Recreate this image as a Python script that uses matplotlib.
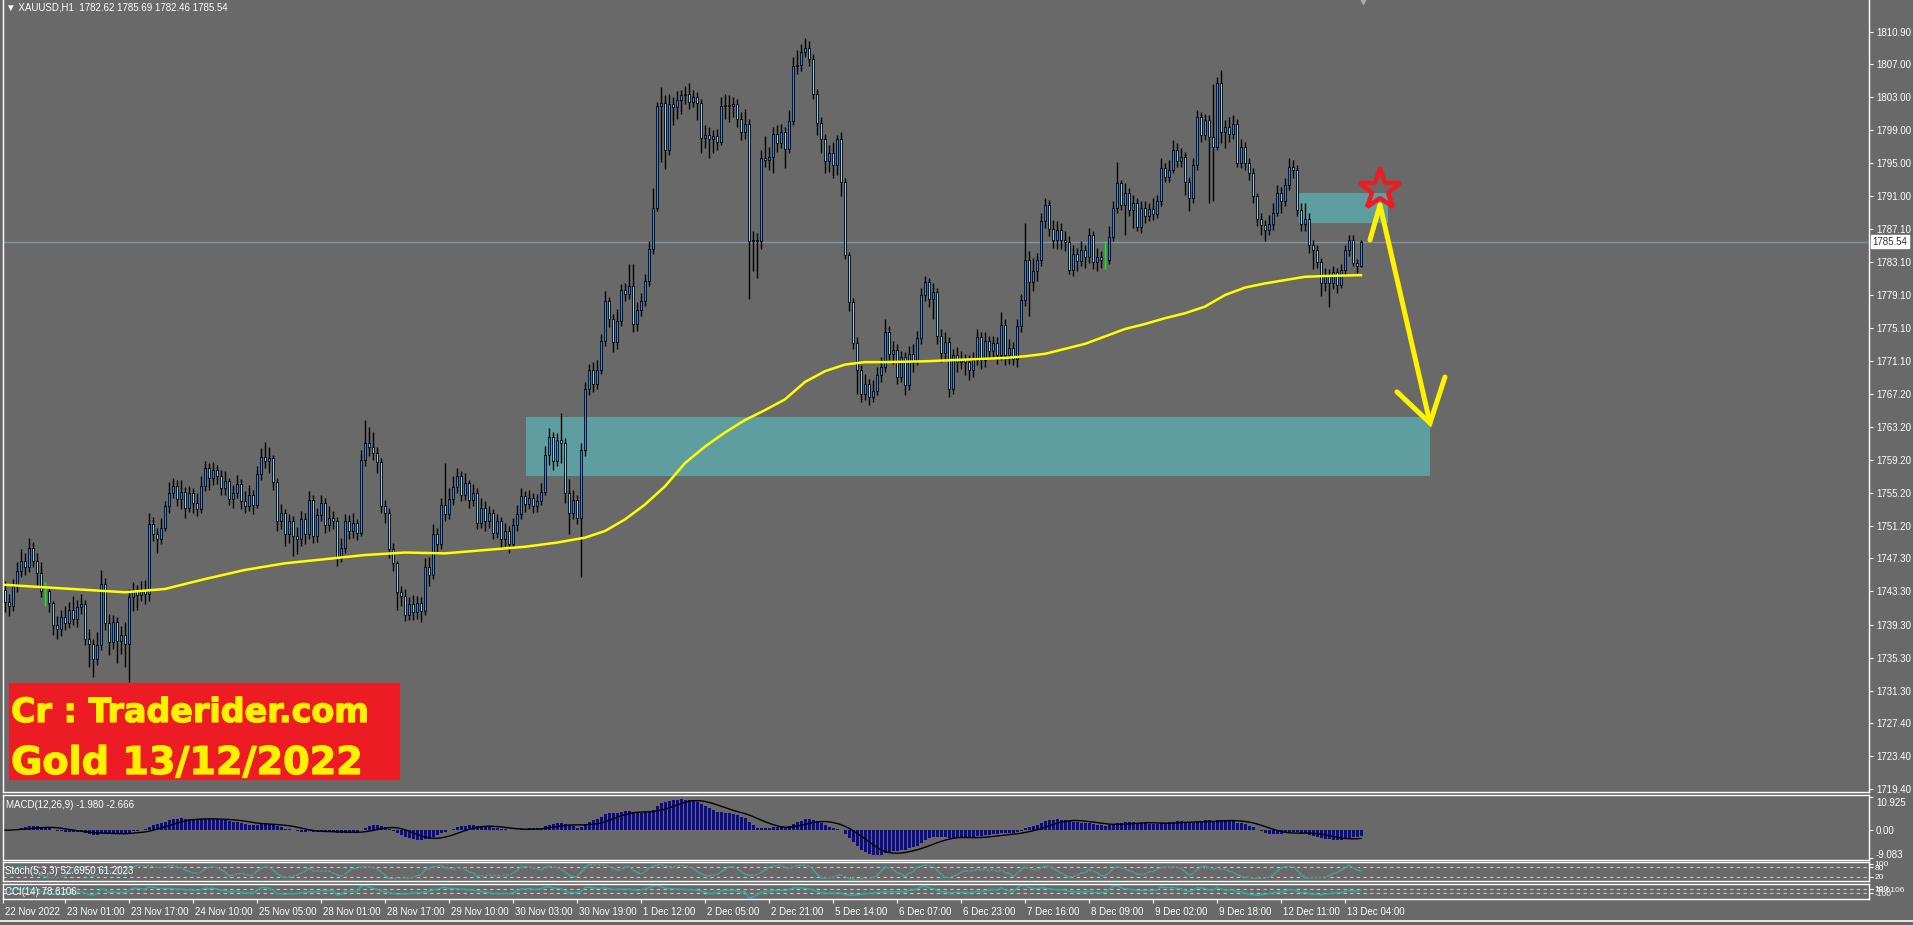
import numpy as np
import pandas as pd
import matplotlib
matplotlib.use("Agg")
import matplotlib.pyplot as plt
import matplotlib.patheffects as pe
from matplotlib.patches import Rectangle
from matplotlib.transforms import blended_transform_factory, ScaledTranslation

plt.rcParams['font.family'] = ['Liberation Sans', 'DejaVu Sans']

# ---- XAUUSD H1 candles ----
symbol = "XAUUSD,H1"
first_open = 1743.5
closes = [
    1742.0, 1741.5, 1744.0, 1745.8, 1747.0, 1746.2, 1748.5, 1747.0, 1745.5, 1743.4,
    1743.4, 1741.9, 1739.2, 1738.8, 1740.2, 1739.5, 1741.0, 1740.0, 1741.4, 1741.8,
    1737.6, 1737.0, 1735.2, 1736.8, 1744.2, 1739.5, 1737.2, 1739.6, 1737.3, 1738.0,
    1737.0, 1742.6, 1743.3, 1742.9, 1743.5, 1743.0, 1751.5, 1750.2, 1749.6, 1751.0,
    1753.6, 1755.2, 1756.0, 1754.5, 1755.3, 1753.4, 1755.2, 1754.0, 1753.3, 1756.0,
    1758.2, 1757.0, 1758.0, 1757.3, 1755.8, 1756.6, 1754.5, 1755.2, 1756.3, 1754.2,
    1753.6, 1755.0, 1753.8, 1757.5, 1759.5, 1759.0, 1759.4, 1756.5, 1751.8, 1752.8,
    1750.2, 1751.8, 1750.0, 1749.6, 1752.0, 1750.2, 1754.3, 1750.0, 1752.5, 1754.0,
    1751.3, 1752.2, 1751.8, 1747.3, 1748.6, 1751.8, 1750.6, 1751.6, 1750.4, 1759.2,
    1761.2, 1760.8, 1760.0, 1758.9, 1753.6, 1752.8, 1748.4, 1746.7, 1743.2, 1742.8,
    1740.4, 1741.8, 1740.8, 1741.9, 1740.9, 1746.2, 1745.3, 1750.2, 1749.0, 1753.8,
    1752.6, 1754.5, 1755.9, 1757.3, 1755.0, 1756.4, 1754.4, 1755.2, 1751.6, 1753.4,
    1751.8, 1752.8, 1750.4, 1751.8, 1749.6, 1750.6, 1749.0, 1751.3, 1752.7, 1754.8,
    1753.9, 1754.6, 1753.6, 1754.2, 1755.3, 1759.8, 1762.0, 1759.0, 1761.6, 1761.2,
    1755.2, 1752.8, 1754.4, 1752.2, 1760.4, 1767.8, 1770.0, 1768.3, 1770.1, 1773.5,
    1778.4, 1776.2, 1773.4, 1776.0, 1779.7, 1779.2, 1780.2, 1775.6, 1777.3, 1778.4,
    1780.8, 1784.7, 1789.6, 1801.9, 1802.3, 1796.6, 1802.2, 1801.8, 1802.6, 1803.2,
    1803.4, 1802.4, 1803.0, 1802.3, 1798.1, 1798.4, 1797.9, 1798.3, 1797.6, 1801.9,
    1802.1, 1801.9, 1802.2, 1800.4, 1798.8, 1799.7, 1785.6, 1785.8, 1785.6, 1795.7,
    1795.4, 1795.8, 1798.6, 1797.5, 1798.8, 1796.7, 1800.1, 1806.7, 1806.9, 1808.5,
    1808.9, 1807.6, 1803.4, 1799.9, 1797.9, 1795.3, 1796.2, 1794.8, 1797.9, 1792.7,
    1783.9, 1778.2, 1773.3, 1770.0, 1767.2, 1768.3, 1766.8, 1767.5, 1769.4, 1770.4,
    1774.6, 1772.0, 1772.5, 1769.2, 1771.6, 1768.2, 1772.0, 1771.1, 1773.9, 1779.1,
    1780.7, 1778.6, 1779.5, 1774.1, 1772.1, 1773.4, 1767.8, 1771.8, 1771.0, 1771.4,
    1771.0, 1770.0, 1771.2, 1774.0, 1771.2, 1773.6, 1772.3, 1773.3, 1771.8, 1775.5,
    1771.8, 1772.7, 1771.4, 1775.3, 1778.5, 1783.3, 1780.7, 1782.0, 1783.3, 1788.1,
    1790.0, 1787.1, 1785.8, 1787.0, 1785.7, 1785.5, 1782.1, 1784.0, 1783.2, 1784.5,
    1783.7, 1786.3, 1783.1, 1783.7, 1783.3, 1783.3, 1786.1, 1789.6, 1792.6, 1790.0,
    1791.4, 1789.4, 1790.2, 1787.3, 1789.6, 1788.6, 1789.5, 1788.9, 1790.4, 1794.4,
    1793.4, 1794.2, 1796.6, 1795.3, 1795.8, 1792.8, 1790.8, 1794.8, 1800.6, 1798.4,
    1800.2, 1798.2, 1797.0, 1804.7, 1798.8, 1799.4, 1798.6, 1799.8, 1795.0, 1797.0,
    1795.0, 1793.8, 1791.0, 1788.3, 1787.5, 1786.9, 1787.7, 1789.0, 1791.4, 1790.4,
    1792.4, 1794.6, 1794.2, 1789.4, 1787.7, 1788.3, 1785.1, 1784.5, 1783.1, 1780.5,
    1781.5, 1780.6, 1781.9, 1780.3, 1782.1, 1784.5, 1785.7, 1783.0, 1782.62, 1785.54,
]
highs = [
    1744.6, 1743.0, 1744.8, 1746.9, 1748.4, 1747.9, 1749.7, 1749.3, 1748.0, 1746.8,
    1744.5, 1743.7, 1742.2, 1740.3, 1741.0, 1741.6, 1742.0, 1742.8, 1742.3, 1743.0,
    1742.3, 1738.8, 1737.6, 1738.4, 1745.9, 1744.9, 1740.6, 1740.4, 1740.2, 1739.1,
    1739.6, 1743.6, 1744.5, 1744.1, 1744.6, 1744.7, 1752.8, 1752.3, 1751.0, 1752.2,
    1754.2, 1756.5, 1757.0, 1756.8, 1756.7, 1755.9, 1756.0, 1755.8, 1755.2, 1757.2,
    1759.0, 1758.8, 1758.9, 1758.6, 1758.0, 1757.8, 1757.0, 1756.2, 1757.4, 1756.9,
    1755.4, 1756.2, 1755.6, 1758.4, 1760.6, 1761.4, 1760.8, 1759.8, 1757.0, 1753.9,
    1753.2, 1752.6, 1752.4, 1751.1, 1753.0, 1752.8, 1755.4, 1754.9, 1753.4, 1755.0,
    1754.6, 1753.6, 1753.0, 1752.3, 1749.8, 1752.6, 1752.5, 1752.8, 1752.1, 1760.4,
    1764.0, 1763.2, 1762.6, 1760.8, 1759.4, 1754.4, 1753.4, 1749.2, 1747.0, 1744.0,
    1743.6, 1742.6, 1742.9, 1742.7, 1742.6, 1747.4, 1747.5, 1751.4, 1751.0, 1754.6,
    1758.8, 1755.8, 1757.2, 1758.2, 1757.9, 1757.6, 1756.8, 1756.3, 1755.8, 1754.6,
    1754.2, 1753.6, 1753.2, 1752.6, 1752.3, 1751.6, 1751.2, 1752.2, 1753.8, 1755.8,
    1755.4, 1755.6, 1755.2, 1755.1, 1756.4, 1760.9, 1763.0, 1762.6, 1762.4, 1764.8,
    1761.8, 1756.9, 1755.6, 1755.0, 1761.2, 1768.6, 1770.8, 1771.0, 1771.2, 1774.4,
    1779.6, 1778.9, 1776.8, 1777.4, 1780.4, 1780.6, 1782.8, 1782.8, 1778.2, 1779.4,
    1781.6, 1785.6, 1792.0, 1802.4, 1804.2, 1803.2, 1803.4, 1803.0, 1803.8, 1803.9,
    1804.4, 1804.7, 1803.9, 1803.6, 1802.8, 1799.6, 1799.4, 1799.0, 1799.2, 1803.0,
    1803.4, 1803.2, 1803.0, 1802.8, 1801.2, 1801.6, 1800.4, 1786.8, 1786.6, 1796.6,
    1798.3, 1797.0, 1799.4, 1799.6, 1799.8, 1799.4, 1801.4, 1807.8, 1808.7, 1809.4,
    1810.2, 1809.8, 1808.2, 1804.0, 1800.6, 1798.6, 1797.2, 1797.6, 1798.4, 1798.8,
    1793.2, 1784.3, 1778.8, 1774.0, 1770.6, 1769.6, 1769.0, 1768.8, 1770.4, 1771.6,
    1776.2, 1775.4, 1773.6, 1773.2, 1772.4, 1772.2, 1773.0, 1773.2, 1774.8, 1780.0,
    1781.4, 1781.2, 1780.6, 1779.9, 1775.0, 1774.6, 1774.0, 1772.6, 1772.8, 1772.4,
    1772.0, 1771.8, 1772.2, 1775.0, 1774.6, 1774.6, 1774.2, 1774.2, 1774.0, 1777.0,
    1776.2, 1773.8, 1773.4, 1776.2, 1779.2, 1787.8, 1784.4, 1783.6, 1784.2, 1789.0,
    1790.8, 1790.6, 1788.2, 1788.0, 1787.8, 1786.8, 1786.2, 1785.2, 1784.8, 1785.6,
    1785.2, 1787.2, 1786.8, 1784.8, 1784.4, 1785.6, 1787.4, 1790.4, 1795.2, 1793.0,
    1792.6, 1792.0, 1791.2, 1790.8, 1790.4, 1790.4, 1790.2, 1790.8, 1791.2, 1795.6,
    1795.0, 1795.4, 1797.8, 1797.4, 1796.8, 1796.4, 1793.4, 1795.6, 1801.4, 1801.2,
    1801.0, 1800.8, 1804.6, 1805.4, 1806.3, 1800.2, 1800.6, 1800.8, 1800.4, 1798.0,
    1797.6, 1795.6, 1794.4, 1791.4, 1789.0, 1788.2, 1788.8, 1790.2, 1792.4, 1792.2,
    1793.2, 1795.6, 1795.4, 1794.8, 1790.2, 1790.2, 1789.0, 1785.8, 1785.2, 1783.6,
    1782.4, 1782.2, 1782.6, 1782.4, 1782.8, 1785.2, 1786.4, 1786.4, 1783.4, 1785.69,
]
lows = [
    1740.8, 1740.3, 1740.9, 1743.2, 1745.0, 1745.3, 1745.6, 1746.2, 1744.1, 1742.6,
    1741.6, 1740.8, 1738.0, 1737.6, 1737.9, 1738.7, 1738.9, 1739.2, 1739.0, 1740.6,
    1736.8, 1734.2, 1733.0, 1734.4, 1736.2, 1738.6, 1735.6, 1736.4, 1734.6, 1735.8,
    1734.2, 1732.4, 1740.9, 1741.0, 1742.1, 1741.8, 1742.2, 1749.4, 1748.0, 1749.0,
    1750.6, 1752.8, 1754.6, 1753.6, 1753.2, 1752.2, 1752.9, 1752.8, 1752.4, 1752.8,
    1755.4, 1755.6, 1756.2, 1756.3, 1754.9, 1755.0, 1753.7, 1753.4, 1754.6, 1753.2,
    1752.8, 1753.0, 1752.6, 1753.4, 1756.8, 1758.2, 1757.6, 1755.6, 1750.6, 1750.9,
    1748.8, 1749.2, 1747.6, 1747.8, 1748.8, 1749.0, 1749.6, 1749.2, 1749.3, 1751.8,
    1750.4, 1750.6, 1750.8, 1746.4, 1746.8, 1748.0, 1749.6, 1749.8, 1749.5, 1750.0,
    1758.5, 1759.6, 1759.2, 1757.6, 1752.8, 1751.6, 1747.4, 1745.8, 1741.0, 1741.5,
    1739.7, 1739.8, 1739.8, 1740.0, 1739.6, 1740.4, 1744.0, 1744.8, 1747.8, 1748.4,
    1751.8, 1752.0, 1753.8, 1755.2, 1754.2, 1754.4, 1753.4, 1753.6, 1750.8, 1751.0,
    1750.6, 1751.0, 1749.6, 1749.8, 1748.6, 1748.8, 1748.0, 1748.6, 1750.6, 1752.0,
    1752.9, 1753.2, 1752.8, 1752.9, 1753.8, 1754.9, 1758.6, 1758.0, 1758.4, 1758.8,
    1754.0, 1750.2, 1752.0, 1751.4, 1745.0, 1759.6, 1767.0, 1767.4, 1767.8, 1769.6,
    1773.0, 1775.2, 1772.2, 1772.6, 1775.4, 1778.4, 1778.6, 1774.6, 1774.8, 1776.6,
    1777.8, 1780.2, 1784.0, 1789.2, 1795.2, 1794.3, 1796.0, 1799.6, 1800.4, 1801.0,
    1802.2, 1801.6, 1801.8, 1800.2, 1796.2, 1796.8, 1795.6, 1796.2, 1796.6, 1797.2,
    1800.4, 1800.0, 1800.6, 1799.4, 1797.8, 1798.0, 1778.6, 1782.0, 1781.2, 1784.6,
    1794.6, 1794.2, 1793.8, 1796.4, 1796.8, 1794.4, 1796.2, 1799.6, 1805.8, 1806.2,
    1807.8, 1806.8, 1802.8, 1798.4, 1796.2, 1793.8, 1794.0, 1793.2, 1793.6, 1791.0,
    1783.4, 1777.2, 1772.6, 1767.2, 1766.2, 1766.4, 1765.8, 1766.2, 1767.0, 1768.6,
    1769.8, 1771.2, 1770.8, 1768.4, 1768.6, 1767.0, 1767.6, 1769.8, 1770.6, 1773.2,
    1778.4, 1777.6, 1776.2, 1773.2, 1771.0, 1771.4, 1766.8, 1767.2, 1769.8, 1770.2,
    1769.4, 1768.8, 1769.2, 1770.6, 1770.2, 1770.4, 1771.4, 1771.6, 1770.8, 1771.2,
    1770.6, 1770.8, 1770.6, 1770.4, 1774.6, 1777.8, 1776.6, 1779.6, 1780.8, 1782.6,
    1787.2, 1786.2, 1784.8, 1784.6, 1784.6, 1784.4, 1781.6, 1781.4, 1782.0, 1782.6,
    1782.4, 1783.0, 1782.2, 1782.0, 1782.4, 1782.2, 1782.8, 1785.6, 1789.0, 1789.4,
    1786.4, 1788.6, 1787.2, 1786.8, 1786.6, 1787.8, 1788.0, 1788.2, 1788.4, 1789.8,
    1792.8, 1792.8, 1793.8, 1794.6, 1794.6, 1791.2, 1789.2, 1790.2, 1794.2, 1797.6,
    1797.8, 1790.2, 1790.4, 1796.6, 1797.4, 1796.8, 1797.6, 1798.0, 1794.6, 1794.4,
    1794.2, 1793.0, 1790.2, 1787.4, 1786.4, 1785.6, 1786.4, 1787.0, 1788.6, 1789.0,
    1789.8, 1791.8, 1793.2, 1788.6, 1786.8, 1786.8, 1784.2, 1782.2, 1782.4, 1779.0,
    1779.6, 1777.7, 1779.8, 1779.4, 1779.9, 1781.4, 1783.8, 1782.6, 1781.8, 1782.46,
]

# yellow moving average
ma_bars = [0, 10, 20, 30, 40, 50, 60, 70, 80, 90, 100, 110, 120, 130, 138, 145, 150, 155,
           160, 165, 170, 175, 180, 185, 190, 195, 200, 205, 210, 215, 220, 230, 240, 250,
           255, 260, 265, 270, 275, 280, 285, 290, 295, 300, 305, 310, 315, 320, 325, 330, 339]
ma_values = [1744.1, 1743.8, 1743.5, 1743.2, 1743.6, 1744.8, 1745.9, 1746.7, 1747.2, 1747.7,
             1748.0, 1747.9, 1748.3, 1748.7, 1749.2, 1749.8, 1750.6, 1752.0, 1753.8, 1756.0,
             1758.8, 1760.8, 1762.5, 1764.0, 1765.2, 1766.5, 1768.6, 1769.9, 1770.7, 1771.0,
             1771.0, 1771.1, 1771.3, 1771.5, 1771.7, 1772.0, 1772.6, 1773.2, 1774.1, 1775.0,
             1775.6, 1776.3, 1776.9, 1777.7, 1779.1, 1780.0, 1780.5, 1780.9, 1781.3, 1781.4,
             1781.5]

price_ticks = [1810.9, 1807.0, 1803.0, 1799.0, 1795.0, 1791.0, 1787.1, 1783.1, 1779.1, 1775.1,
               1771.1, 1767.2, 1763.2, 1759.2, 1755.2, 1751.2, 1747.3, 1743.3, 1739.3, 1735.3,
               1731.3, 1727.4, 1723.4, 1719.4]
date_labels = ["22 Nov 2022", "23 Nov 01:00", "23 Nov 17:00", "24 Nov 10:00", "25 Nov 05:00",
               "28 Nov 01:00", "28 Nov 17:00", "29 Nov 10:00", "30 Nov 03:00", "30 Nov 19:00",
               "1 Dec 12:00", "2 Dec 05:00", "2 Dec 21:00", "5 Dec 14:00", "6 Dec 07:00",
               "6 Dec 23:00", "7 Dec 16:00", "8 Dec 09:00", "9 Dec 02:00", "9 Dec 18:00",
               "12 Dec 11:00", "13 Dec 04:00"]
date_bars = [-0.5] + [15 + 16 * k for k in range(21)]

# drawn zones / annotations (bar index, price)
zone_big = (130.25, 356.25, 1757.2, 1764.4)
zone_small = (323.5, 345.75, 1787.8, 1791.4)
arrow_x = [341.25, 343.75, 356.25]
arrow_y = [1785.75, 1789.97, 1763.64]
head_x = [348.0, 356.25, 360.0]
head_y = [1767.4, 1763.64, 1769.2]
star_xy = (343.75, 1791.8)

macd_label = "MACD(12,26,9) -1.980 -2.666"
macd_range = (10.925, -9.083)
stoch_label = "Stoch(5,3,3) 52.6950 61.2023"
cci_label = "CCI(14) 78.6106"
banner_lines = ["Cr : Traderider.com", "Gold 13/12/2022"]

# ---- derived series ----
c = np.array(closes)
h = np.array(highs)
l = np.array(lows)
o = np.array([first_open] + closes[:-1])
idx = np.arange(len(c))

cs, hs, ls = pd.Series(c), pd.Series(h), pd.Series(l)
macd = cs.ewm(span=12, adjust=False).mean() - cs.ewm(span=26, adjust=False).mean()
signal = macd.rolling(9, min_periods=1).mean()
ll5 = ls.rolling(5, min_periods=1).min()
hh5 = hs.rolling(5, min_periods=1).max()
st_k = 100 * (cs - ll5).rolling(3, min_periods=1).sum() / (hh5 - ll5).rolling(3, min_periods=1).sum()
st_d = st_k.rolling(3, min_periods=1).mean()
tp = (hs + ls + cs) / 3
md = tp.rolling(14, min_periods=1).apply(lambda x: np.mean(np.abs(x - x.mean())), raw=True)
cci = (tp - tp.rolling(14, min_periods=1).mean()) / (0.015 * md.replace(0, np.nan))

# ---- figure ----
BG = '#696969'
W, H = 1913, 925
fig = plt.figure(figsize=(W / 100, H / 100), dpi=100, facecolor=BG)


def panel(top, bottom):
    a = fig.add_axes([3 / W, 1 - bottom / H, 1866 / W, (bottom - top) / H], facecolor=BG)
    a.set_xlim(-0.5, 466)
    for s in a.spines.values():
        s.set_color('white')
        s.set_linewidth(1)
    a.yaxis.tick_right()
    a.tick_params(axis='y', colors='white', length=3, pad=2, labelsize=7)
    a.tick_params(axis='x', bottom=False, labelbottom=False)
    return a


def nudge(label, dy_px):
    label.set_transform(label.get_transform() + ScaledTranslation(0, dy_px / 100, fig.dpi_scale_trans))


ax = panel(0, 792)
ax_macd = panel(795, 860)
ax_st = panel(862, 881)
ax_cci = panel(884, 899)
ax.spines['top'].set_visible(False)

# main price panel
ymin, ymax = 1719.08, 1814.73
ax.set_ylim(ymin, ymax)
ax.set_yticks(price_ticks)
ax.set_yticklabels([f"{v:.2f}" for v in price_ticks])

for x0, x1, y0, y1 in (zone_big, zone_small):
    ax.add_patch(Rectangle((x0, y0), x1 - x0, y1 - y0, fc='#5f9ea0', ec='none', zorder=1))

ax.axhline(c[-1], color='#8393a7', lw=1, zorder=2)

up = c > o + 0.04
dn = c < o - 0.04
dj = ~(up | dn)
ax.vlines(idx[~dj], l[~dj], h[~dj], color='black', lw=1, zorder=3)
ax.vlines(idx[dj], l[dj], h[dj], color='#00ff00', lw=1, zorder=3)
ax.bar(idx[up], (c - o)[up], bottom=o[up], width=0.74, color='#1e90ff',
       edgecolor='black', linewidth=0.6, zorder=4)
ax.bar(idx[dn], (o - c)[dn], bottom=c[dn], width=0.74, color='#87cefa',
       edgecolor='black', linewidth=0.6, zorder=4)

ax.plot(ma_bars, ma_values, color='#ffff00', lw=1.8, zorder=5)

ax.plot(arrow_x, arrow_y, color='#fff200', lw=3.6, solid_capstyle='round',
        solid_joinstyle='round', zorder=6)
ax.plot(head_x, head_y, color='#fff200', lw=3.6, solid_capstyle='round',
        solid_joinstyle='miter', zorder=6)
ax.plot(*star_xy, marker='*', ms=31, mfc='none', mec='#ed1c24', mew=3.2, zorder=7)
ax.plot(339.5, ymax, marker='v', ms=6, color='#a9aab4', clip_on=False, zorder=8)

tr = blended_transform_factory(ax.transAxes, ax.transData)
ax.text(1.002, c[-1], f"{c[-1]:.2f}", transform=tr, ha='left', va='center', fontsize=7,
        color='#303030', bbox=dict(boxstyle='square,pad=0.15', fc='white', ec='white'), zorder=9)

# MACD: window scaled to the max / min shown on its axis
ax_macd.set_ylim(-9.8, 11.5)
ax_macd.bar(idx, macd, width=0.75, color='#0b0b8c', zorder=2)
ax_macd.plot(idx, signal, color='black', lw=1, zorder=3)
ax_macd.set_yticks([macd_range[0], 0, macd_range[1]])
ax_macd.set_yticklabels([f"{macd_range[0]:.3f}", "0.00", f"{macd_range[1]:.3f}"])
mlabs = ax_macd.get_yticklabels()
nudge(mlabs[0], -5)
nudge(mlabs[2], 4)

# Stochastic
ax_st.set_ylim(-8, 112)
for lv in (20, 80):
    ax_st.axhline(lv, color='#c8c8c8', lw=0.8, ls=(0, (3, 3)))
ax_st.plot(idx, st_k, color='#20b2aa', lw=1)
ax_st.plot(idx, st_d, color='#ff2020', lw=1, ls=(0, (1, 2)))
ax_st.set_yticks([100, 80, 20])
ax_st.set_yticklabels(["100", "80", "20"])
ax_st.tick_params(axis='y', labelsize=6, pad=1)

# CCI
ax_cci.set_ylim(-365, 332)
for lv in (100, -100):
    ax_cci.axhline(lv, color='#c8c8c8', lw=0.8, ls=(0, (3, 3)))
ax_cci.plot(idx, cci, color='#20b2aa', lw=1)
ax_cci.set_yticks([100, -100, 78.6])
ax_cci.set_yticklabels(["100", "-100", "78.6106"])
ax_cci.tick_params(axis='y', labelsize=6, pad=1)

# time axis under the last panel
ax_cci.set_xticks(date_bars)
ax_cci.set_xticklabels(date_labels)
ax_cci.tick_params(axis='x', bottom=True, labelbottom=True, colors='white', length=3,
                   pad=3, labelsize=7)
for lab in ax_cci.get_xticklabels():
    lab.set_horizontalalignment('left')
    lab.set_transform(lab.get_transform() + ScaledTranslation(2 / 100, 0, fig.dpi_scale_trans))

# texts
fig.text(6 / W, 1 - 7 / H, "\u25bc " + symbol + f"  {o[-1]:.2f} {h[-1]:.2f} {l[-1]:.2f} {c[-1]:.2f}",
         color='white', fontsize=7, va='center')
fig.text(6 / W, 1 - 805 / H, macd_label, color='white', fontsize=7, va='center')
fig.text(5 / W, 1 - 871 / H, stoch_label, color='white', fontsize=7, va='center')
fig.text(5 / W, 1 - 892 / H, cci_label, color='white', fontsize=7, va='center')

fig.add_artist(Rectangle((9 / W, 1 - 780 / H), 391 / W, 97 / H, transform=fig.transFigure,
                         fc='#ed1c24', ec='none'))
heavy = [pe.withStroke(linewidth=0.9, foreground='#fff200')]
fig.text(11 / W, 1 - 722 / H, banner_lines[0], color='#fff200', fontsize=24,
         fontweight='bold', family='DejaVu Sans', va='baseline', path_effects=heavy)
fig.text(11 / W, 1 - 774 / H, banner_lines[1], color='#fff200', fontsize=27.5,
         fontweight='bold', family='DejaVu Sans', va='baseline', path_effects=heavy)

fig.add_artist(plt.Line2D([0, 1], [1 - 921 / H, 1 - 921 / H], transform=fig.transFigure,
                          color='white', lw=1.2))

fig.savefig("out.png", dpi=100, facecolor=BG)
